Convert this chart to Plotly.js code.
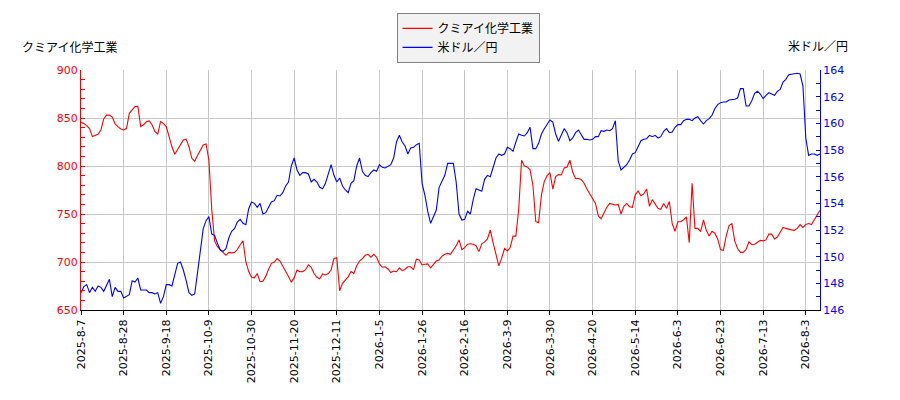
<!DOCTYPE html>
<html>
<head>
<meta charset="utf-8">
<script src="https://cdn.plot.ly/plotly-3.0.1.min.js"></script>
<style>html,body{margin:0;padding:0;background:#fff;}#chart{width:900px;height:400px;}</style>
</head>
<body>
<div id="chart"></div>
<script>
// trading-day tick labels (every 15 trading days)
const tickLabels = ["2025-8-7","2025-8-28","2025-9-18","2025-10-9","2025-10-30","2025-11-20","2025-12-11","2026-1-5","2026-1-26","2026-2-16","2026-3-9","2026-3-30","2026-4-20","2026-5-14","2026-6-3","2026-6-23","2026-7-13","2026-8-3"];
const tickStep = 15;

// クミアイ化学工業 (left axis), one value per trading day
const kumiai = [
845.5,844.4,842,839,830.6,831.5,833,837.5,849,853,
853,851,843.8,841,838.5,837.5,839,854.9,859,862,
862.2,841,843,846,847,843,836,833.3,846.2,844.4,
841,829,820,812.2,817,823,827,828,820,808,
805,811,817,822,822.9,806,755,722,716,713,
709,707,710,709.5,710,713,718,722,700.3,690,
684,683.5,688,679.5,680,685,692.5,698.6,700,703.5,
701,696,690,685,679,683.7,691.5,689.8,690,692,
697,694.5,688,684,682.5,687.5,686.5,688,691.7,703.8,
704.5,670,677.8,681,684.5,690,688.2,696,701,703.5,
707,708,705,708,705,698,694.5,695,692.7,689,
690.5,689.9,694,691,692.5,695,695,692,703,702.1,
696.9,697.6,698,694,698,701,702,706,708,709,
708,712,717,723,713,715,718.5,719,718.5,717,
710.8,719,721,724,733.3,720,708,696,704,714,
711.5,715,727,727,755,806,800,799,796,780,
742,741,770,784,790,793,776,789,791,790.6,
798,799,806,793.4,787,787,786,782,776,771,
767,761,748,745,751,757,761,760,759.4,760,
750,758,761,757.6,757,770,774,769,771,776,
758,765,761,756,755,761,756,763,740,732,
742,742,744,747,720,782,735,735,731.6,743.8,
733,727,732,730,724,713,712,727,738,740,
722,714,710,710,713,721,718,718.5,720.5,722.5,
722,723,729,729,724,726,731,736,735,734,
733.5,733,735,739,736,739,740,739,743.8,749,
754];

// 米ドル／円 (right axis), one value per trading day
const usdjpy = [
147.3,147.75,147.9,147.3,147.7,147.4,147.8,147.7,147.4,147.9,
148.3,147,147.7,147.4,147.4,146.9,147,147.15,148.2,148.1,
148.4,147.5,147.5,147.5,147.3,147.3,147.2,147.3,146.5,147,
147.9,147.9,147.8,148.7,149.5,149.6,149,148.2,147.3,147.1,
147.2,148.8,150.6,152.1,152.7,153,151.7,151.6,151,150.5,
150.4,150.6,151.4,151.9,152.1,152.6,152.8,152.5,152.4,153.6,
154.1,154,153.7,154,153.2,153.3,153.7,154.1,154.2,154.6,
154.55,154.8,155.3,155.6,156.8,157.4,156.5,156.1,156.3,156.3,
156.2,155.6,155.8,155.6,155.2,155.1,155.5,156.2,156.9,156.1,
155.6,155.9,155.3,155,154.8,155.5,155.7,156.8,157.4,156.4,
156.1,156,156.3,156.5,156.4,156.9,156.7,156.65,156.8,156.9,
157.4,158.6,159.1,158.6,158.3,157.7,158.15,158.2,158.4,158.5,
155.5,154.6,153.4,152.5,153,153.5,155.2,155.7,156.1,157,
157,157,155.6,153.2,152.75,152.8,153.4,153.2,154.3,155.1,
155,154.9,155.8,156.1,156,156.8,157.4,157.7,157.6,157.7,
158.2,158.1,157.9,158.6,159.2,159.1,159.05,159.3,159.7,158.1,
158.1,158.5,159.2,159.6,159.9,160.25,160.1,159.2,158.65,159.1,
159.6,159.3,158.7,158.9,159.3,159.5,159.1,158.8,158.8,158.75,
158.8,159,159,159.45,159.4,159.5,159.45,159.6,160.2,157.2,
156.5,156.7,156.9,157.25,157.7,157.8,158.3,158.7,158.8,158.85,
159.1,159,159.1,158.9,159,159.4,159.6,159.3,159.35,159.7,
159.9,159.9,160.2,160.3,160.3,160.2,160.4,160.5,160.2,159.95,
160.2,160.35,160.6,161.1,161.4,161.55,161.6,161.6,161.75,161.75,
161.8,161.9,162.6,162.6,161.3,161.3,161.7,162.25,162.4,162.2,
161.85,162.1,162.3,162.2,162.1,162.4,162.55,163.1,163.3,163.65,
163.7,163.7,163.75,163.7,162.8,158.9,157.6,157.7,157.7,157.6,
157.7];

const day = kumiai.map((_, i) => i);
const tickVals = tickLabels.map((_, i) => i * tickStep);

const FONT = "DejaVu Sans, Noto Sans CJK JP, sans-serif";
const GRID = "#c8c8c8";

const traces = [
  {x: day, y: kumiai, type: "scatter", mode: "lines", name: "クミアイ化学工業",
   line: {color: "#ff0000", width: 1.1}, yaxis: "y"},
  {x: day, y: usdjpy, type: "scatter", mode: "lines", name: "米ドル／円",
   line: {color: "#0000ff", width: 1.1}, yaxis: "y2"}
];

const layout = {
  width: 900, height: 400,
  margin: {l: 81, r: 80, t: 70, b: 90},
  paper_bgcolor: "#ffffff", plot_bgcolor: "#ffffff",
  font: {family: FONT, size: 11, color: "#000"},
  showlegend: true,
  legend: {
    x: 0.427, xanchor: "left", y: 1.238, yanchor: "top",
    bgcolor: "#f2f2f2", bordercolor: "#808080", borderwidth: 1,
    font: {family: FONT, size: 12, color: "#000"},
    itemwidth: 30, tracegroupgap: 0
  },
  xaxis: {
    range: [0, day.length - 1],
    tickmode: "array", tickvals: tickVals, ticktext: tickLabels,
    tickangle: -90, tickfont: {size: 11, color: "#000"},
    showgrid: true, gridcolor: GRID, gridwidth: 1,
    showline: true, linecolor: "#000", linewidth: 1,
    ticks: "outside", ticklen: 4, tickcolor: "#000",
    zeroline: false, fixedrange: true
  },
  yaxis: {
    range: [650, 900], dtick: 50, tick0: 650,
    tickfont: {size: 11, color: "#ff0000"},
    showgrid: true, gridcolor: GRID, gridwidth: 1,
    showline: true, linecolor: "#ff0000", linewidth: 1,
    ticks: "inside", ticklen: 4, tickcolor: "#ff0000",
    minor: {dtick: 10, ticks: "inside", ticklen: 4, tickcolor: "#ff0000", showgrid: false},
    zeroline: false, fixedrange: true
  },
  yaxis2: {
    overlaying: "y", side: "right",
    range: [146, 164], dtick: 2, tick0: 146,
    tickfont: {size: 11, color: "#0000ff"},
    showgrid: false,
    showline: true, linecolor: "#0000ff", linewidth: 1,
    ticks: "inside", ticklen: 4, tickcolor: "#0000ff",
    minor: {dtick: 1, ticks: "inside", ticklen: 4, tickcolor: "#0000ff", showgrid: false},
    zeroline: false, fixedrange: true
  },
  annotations: [
    {text: "クミアイ化学工業", xref: "paper", yref: "paper", x: -0.083, y: 1.095,
     xanchor: "left", yanchor: "middle", showarrow: false,
     font: {family: FONT, size: 12, color: "#000"}},
    {text: "米ドル／円", xref: "paper", yref: "paper", x: 1.04, y: 1.095,
     xanchor: "right", yanchor: "middle", showarrow: false,
     font: {family: FONT, size: 12, color: "#000"}}
  ]
};

Plotly.newPlot("chart", traces, layout, {displayModeBar: false, staticPlot: true});
</script>
</body>
</html>
